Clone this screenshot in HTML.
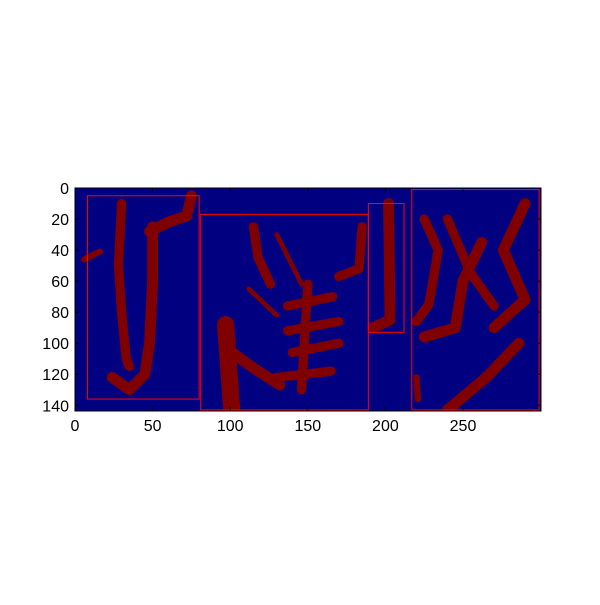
<!DOCTYPE html>
<html><head><meta charset="utf-8"><style>
body{margin:0;background:#fff;}
svg text{font-family:"Liberation Sans",sans-serif;font-size:16px;fill:#000;}
</style></head><body>
<svg id="chart" width="600" height="600" viewBox="0 0 600 600" xmlns="http://www.w3.org/2000/svg">
<defs><clipPath id="clip"><rect x="75" y="188" width="466" height="223"/></clipPath></defs>
<rect x="75" y="188" width="466" height="223" fill="#000080"/>
<g id="strokes" clip-path="url(#clip)"></g>
<g id="boxes" clip-path="url(#clip)"></g>
<rect x="75" y="188" width="466" height="223" fill="none" stroke="#000" stroke-width="1"/>
<g id="ticks"></g>
</svg>
<script>
const xTicks=[0,50,100,150,200,250];
const yTicks=[0,20,40,60,80,100,120,140];
const boxX0=[8,81,189,217];
const boxY0=[5,17,10,1];
const boxX1=[80,189,212,299];
const boxY1=[136,143,93,143];
const strokeXs=[[30,28,30,33,35],[48,60,72,75],[50,50,48,45,35,24],[6,16],
[115,118,126],[130,140,146],[112,130],[97,101],[100,115,132],[137,166],[137,170],[140,170],[130,165],[150,146],[185,183,170],
[202,203,192],
[225,234,228,220],[240,255,270],[262,250,245,225],[290,276,290,270],[286,265,240],[220,221]];
const strokeYs=[[10,50,80,110,115],[28,22,18,5],[25,60,100,120,130,122],[46,41],
[25,45,62],[30,50,62],[65,82],[88,143],[105,116,127],[76,70],[92,86],[106,100],[122,118],[62,130],[25,52,57],
[10,85,90],
[20,40,75,86],[20,55,76],[35,60,90,96],[10,40,72,90],[100,122,143],[122,136]];
const strokeW=[6,7,7,4,6,3,3,11,7,6,6,6,6,6,6,7,6,6,7,7,7,4];
const X0=75,Y0=188,S=1.552;
const sx=v=>X0+v*S, sy=v=>Y0+v*S;
const NS='http://www.w3.org/2000/svg';
const sg=document.getElementById('strokes');
strokeXs.forEach((xs,i)=>{
 const p=document.createElementNS(NS,'polyline');
 p.setAttribute('points',xs.map((x,j)=>sx(x)+','+sy(strokeYs[i][j])).join(' '));
 p.setAttribute('fill','none');p.setAttribute('stroke','#800000');
 p.setAttribute('stroke-width',strokeW[i]*S);p.setAttribute('stroke-linecap','round');p.setAttribute('stroke-linejoin','round');
 
 
 sg.appendChild(p);
});
const bg=document.getElementById('boxes');
boxX0.forEach((x,i)=>{
 const r=document.createElementNS(NS,'rect');
 r.setAttribute('x',sx(x));r.setAttribute('y',sy(boxY0[i]));
 r.setAttribute('width',(boxX1[i]-x)*S);r.setAttribute('height',(boxY1[i]-boxY0[i])*S);
 r.setAttribute('fill','none');r.setAttribute('stroke','#ff0000');r.setAttribute('stroke-width','1');
 
 
 bg.appendChild(r);
});
const tg=document.getElementById('ticks');
xTicks.forEach(v=>{
 const x=sx(v);
 [[411,407],[188,192]].forEach(([a,b])=>{const l=document.createElementNS(NS,'line');l.setAttribute('x1',x);l.setAttribute('x2',x);l.setAttribute('y1',a);l.setAttribute('y2',b);l.setAttribute('stroke','#000');tg.appendChild(l);});
 const t=document.createElementNS(NS,'text');t.setAttribute('x',x);t.setAttribute('y',431);t.setAttribute('text-anchor','middle');t.textContent=v;
 
 
 tg.appendChild(t);
});
yTicks.forEach(v=>{
 const y=sy(v);
 [[75,79],[541,537]].forEach(([a,b])=>{const l=document.createElementNS(NS,'line');l.setAttribute('x1',a);l.setAttribute('x2',b);l.setAttribute('y1',y);l.setAttribute('y2',y);l.setAttribute('stroke','#000');tg.appendChild(l);});
 const t=document.createElementNS(NS,'text');t.setAttribute('x',69);t.setAttribute('y',y+6);t.setAttribute('text-anchor','end');t.textContent=v;
 
 
 tg.appendChild(t);
});
</script>
</body></html>
